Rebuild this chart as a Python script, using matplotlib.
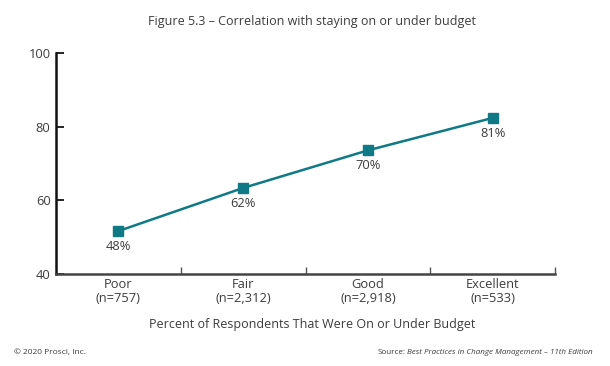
import matplotlib.pyplot as plt

# Данные (позиции точек, подписи - как на графике)
categories = ['Poor\n(n=757)', 'Fair\n(n=2,312)', 'Good\n(n=2,918)', 'Excellent\n(n=533)']
values = [51.7, 63.4, 73.6, 82.4]
labels = ['48%', '62%', '70%', '81%']
y_ticks = [40, 60, 80, 100]

plt.rcParams['font.family'] = ['Open Sans', 'DejaVu Sans']

teal = '#0f7a85'
txt = '#3c3c3c'

fig = plt.figure(figsize=(6.1, 3.66), dpi=100)
ax = fig.add_axes([0.092, 0.251, 0.818, 0.604])

x = list(range(len(categories)))
ax.plot(x, values, color=teal, lw=1.8, marker='s', ms=7, zorder=3)

# Подписи под точками
for xi, v, lab in zip(x, values, labels):
    ax.annotate(lab, (xi, v), xytext=(0, -6.5), textcoords='offset points',
                ha='center', va='top', fontsize=9.3, color=txt)

ax.set_xlim(-0.5, 3.5)
ax.set_ylim(40, 100)
ax.set_yticks(y_ticks)
ax.set_xticks(x)
ax.set_xticklabels(categories, fontsize=9.3, color=txt, linespacing=1.1)
ax.set_xticks([0.5, 1.5, 2.5, 3.5], minor=True)
ax.tick_params(axis='x', which='major', length=0, pad=3)
ax.tick_params(axis='x', which='minor', direction='in', length=5, width=1, color='#555555')
ax.tick_params(axis='y', direction='in', length=6, width=1.2, labelsize=9.3,
               labelcolor=txt, pad=4)

for s in ['top', 'right']:
    ax.spines[s].set_visible(False)
ax.spines['left'].set_linewidth(1.8)
ax.spines['bottom'].set_linewidth(1.8)
ax.spines['left'].set_color('#111111')
ax.spines['bottom'].set_color('#444444')

ax.set_xlabel('Percent of Respondents That Were On or Under Budget',
              fontsize=9, color=txt)
ax.xaxis.set_label_coords(0.513, -0.2)

fig.text(0.512, 0.94, 'Figure 5.3 \u2013 Correlation with staying on or under budget',
         ha='center', va='center', fontsize=9, color=txt)
fig.text(0.023, 0.038, '\u00a9 2020 Prosci, Inc.', ha='left', va='center',
         fontsize=6, color=txt)

# Источник: курсивная часть справа, "Source:" перед ней
src = fig.text(0.972, 0.038, 'Best Practices in Change Management \u2013 11th Edition',
               ha='right', va='center', fontsize=5.8, color=txt, style='italic')
fig.canvas.draw()
bb = src.get_window_extent()
fig.text(bb.x0 / fig.bbox.width - 0.003, 0.038, 'Source:', ha='right', va='center',
         fontsize=5.8, color=txt)

plt.savefig('out.png', dpi=100)
